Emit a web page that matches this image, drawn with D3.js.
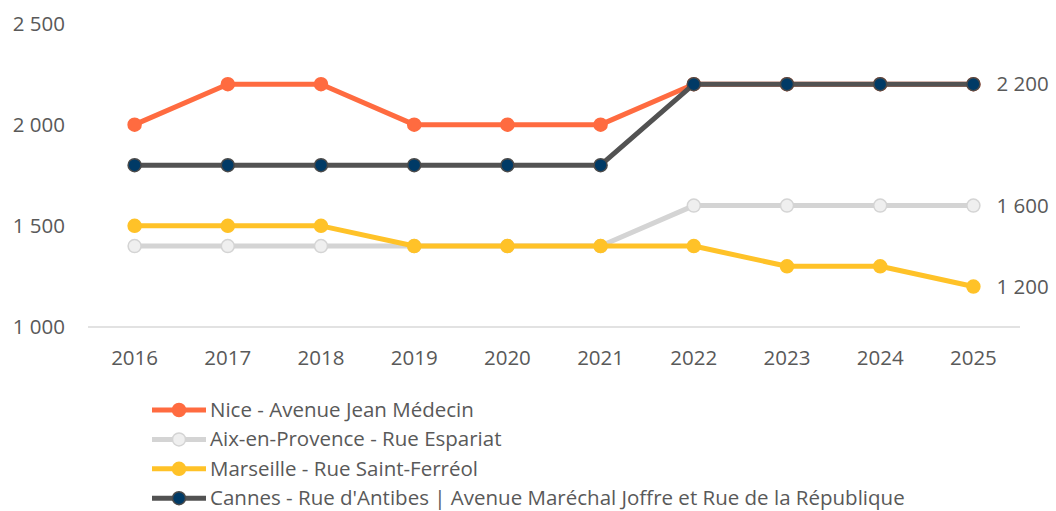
<!DOCTYPE html>
<html>
<head>
<meta charset="utf-8">
<script src="https://cdn.jsdelivr.net/npm/d3@7"></script>
<style>
  body { margin: 0; background: #fff; }
  svg text { font-family: "Open Sans", sans-serif; fill: #595959; font-size: 20.5px; }
</style>
</head>
<body>
<svg id="chart" width="1056" height="511"></svg>
<script>
'use strict';

const years = ['2016', '2017', '2018', '2019', '2020', '2021', '2022', '2023', '2024', '2025'];
const niceValues = [2000, 2200, 2200, 2000, 2000, 2000, 2200, 2200, 2200, 2200];
const aixValues = [1400, 1400, 1400, 1400, 1400, 1400, 1600, 1600, 1600, 1600];
const marseilleValues = [1500, 1500, 1500, 1400, 1400, 1400, 1400, 1300, 1300, 1200];
const cannesValues = [1800, 1800, 1800, 1800, 1800, 1800, 2200, 2200, 2200, 2200];
const yTicks = [1000, 1500, 2000, 2500];

const seriesNames = [
	'Nice - Avenue Jean Médecin',
	'Aix-en-Provence - Rue Espariat',
	'Marseille - Rue Saint-Ferréol',
	"Cannes - Rue d'Antibes | Avenue Maréchal Joffre et Rue de la République"
];

const series = [
	{ name: seriesNames[0], values: niceValues, line: '#FF6B40', fill: '#FF6B40', stroke: '#FF6B40', endLabel: false },
	{ name: seriesNames[1], values: aixValues, line: '#D4D4D4', fill: '#EFEFEF', stroke: '#D4D4D4', endLabel: true },
	{ name: seriesNames[2], values: marseilleValues, line: '#FFC228', fill: '#FFC228', stroke: '#FFC228', endLabel: true },
	{ name: seriesNames[3], values: cannesValues, line: '#525252', fill: '#003A66', stroke: '#4A4A4A', endLabel: true }
];

const fmt = d3.formatLocale({ decimal: ',', thousands: ' ', grouping: [3], currency: ['', ' €'] }).format(',d');

const margin = { top: 23.5, right: 36, bottom: 184, left: 88 };
const width = 1056, height = 511;
const svg = d3.select('#chart');

const x = d3.scaleBand()
	.domain(years)
	.range([margin.left, width - margin.right]);

const y = d3.scaleLinear()
	.domain([1000, 2500])
	.range([height - margin.bottom, margin.top]);

// baseline
svg.append('line')
	.attr('x1', margin.left).attr('x2', width - margin.right)
	.attr('y1', y(1000)).attr('y2', y(1000))
	.attr('stroke', '#D9D9D9').attr('stroke-width', 1.3);

// y axis labels
svg.append('g')
	.selectAll('text')
	.data(yTicks)
	.join('text')
		.attr('x', 65)
		.attr('y', d => y(d))
		.attr('dy', '0.35em')
		.attr('text-anchor', 'end')
		.text(d => fmt(d));

// x axis labels
svg.append('g')
	.selectAll('text')
	.data(years)
	.join('text')
		.attr('x', d => x(d) + x.bandwidth() / 2)
		.attr('y', y(1000) + 31)
		.attr('dy', '0.35em')
		.attr('text-anchor', 'middle')
		.text(d => d);

const line = d3.line()
	.x((d, i) => x(years[i]) + x.bandwidth() / 2)
	.y(d => y(d));

series.forEach(s => {
	const g = svg.append('g');
	g.append('path')
		.attr('d', line(s.values))
		.attr('fill', 'none')
		.attr('stroke', s.line)
		.attr('stroke-width', 5)
		.attr('stroke-linejoin', 'round');
	g.selectAll('circle')
		.data(s.values)
		.join('circle')
			.attr('cx', (d, i) => x(years[i]) + x.bandwidth() / 2)
			.attr('cy', d => y(d))
			.attr('r', 6.5)
			.attr('fill', s.fill)
			.attr('stroke', s.stroke)
			.attr('stroke-width', 1.5);
	if (s.endLabel) {
		const last = s.values[s.values.length - 1];
		g.append('text')
			.attr('x', x(years[years.length - 1]) + x.bandwidth() / 2 + 23)
			.attr('y', y(last))
			.attr('dy', '0.35em')
			.text(fmt(last));
	}
});

// legend
const legend = svg.append('g').attr('transform', 'translate(152, 410)');
series.forEach((s, i) => {
	const row = legend.append('g').attr('transform', 'translate(0,' + (i * 29.4) + ')');
	row.append('line')
		.attr('x1', 0).attr('x2', 54)
		.attr('stroke', s.line).attr('stroke-width', 5);
	row.append('circle')
		.attr('cx', 27).attr('r', 6.5)
		.attr('fill', s.fill).attr('stroke', s.stroke).attr('stroke-width', 1.5);
	row.append('text')
		.attr('x', 58)
		.attr('dy', '0.33em')
		.text(s.name);
});
</script>
</body>
</html>
